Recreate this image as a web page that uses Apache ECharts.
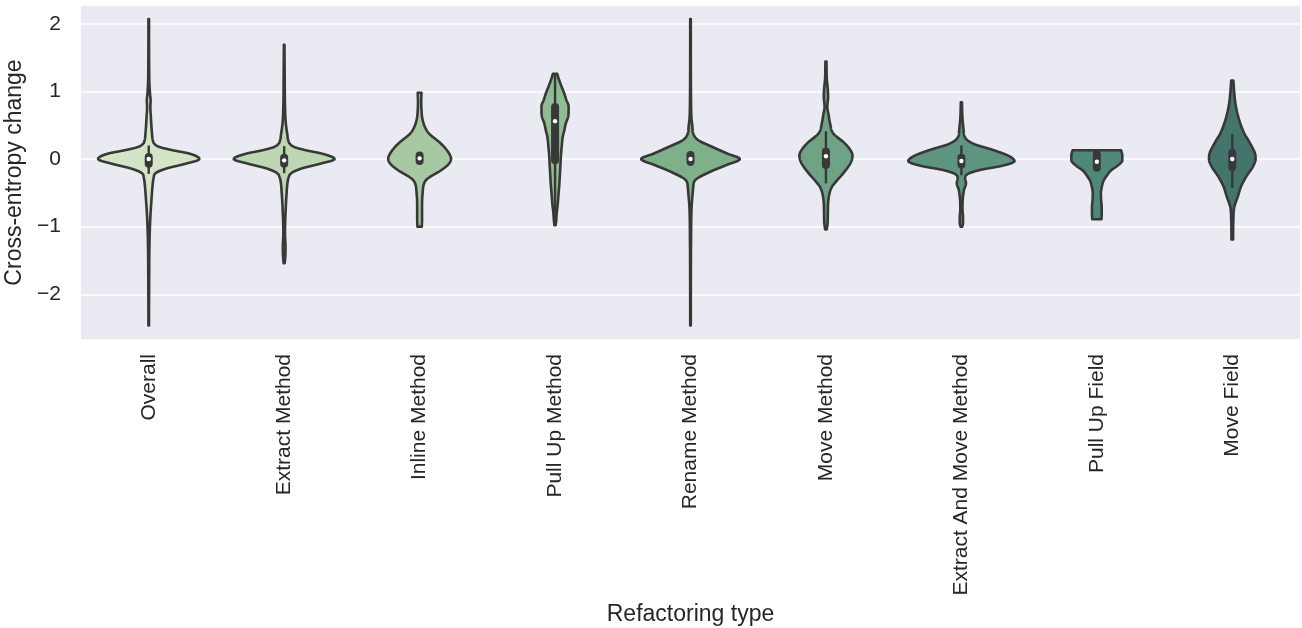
<!DOCTYPE html>
<html>
<head>
<meta charset="utf-8">
<script src="https://cdn.jsdelivr.net/npm/echarts@6/dist/echarts.min.js"></script>
<style>
  html, body { margin: 0; padding: 0; background: #ffffff; }
  #chart { width: 1302px; height: 628px; }
</style>
</head>
<body>
<div id="chart"></div>
<script>
// ---- data ----
const categories = ['Overall', 'Extract Method', 'Inline Method', 'Pull Up Method', 'Rename Method',
  'Move Method', 'Extract And Move Method', 'Pull Up Field', 'Move Field'];

// density profiles: [value, relative half-width (1 = widest violin)]
const densOverall = [[2.07,0.005],[1.2,0.01],[0.95,0.025],[0.87,0.035],[0.77,0.03],[0.62,0.04],[0.38,0.06],[0.28,0.075],[0.23,0.1],[0.18,0.19],[0.13,0.44],[0.08,0.75],[0,0.935],[-0.07,0.68],[-0.14,0.33],[-0.21,0.125],[-0.28,0.09],[-0.36,0.075],[-0.61,0.05],[-0.86,0.03],[-1.2,0.015],[-1.8,0.008],[-2.46,0.004]];
const densExtract = [[1.69,0.005],[1.2,0.01],[0.8,0.015],[0.53,0.03],[0.38,0.055],[0.28,0.075],[0.23,0.1],[0.18,0.18],[0.13,0.4],[0.08,0.7],[0,0.93],[-0.07,0.66],[-0.14,0.32],[-0.21,0.13],[-0.28,0.08],[-0.36,0.06],[-0.51,0.045],[-0.71,0.03],[-1.1,0.015],[-1.3,0.025],[-1.45,0.02],[-1.54,0.01]];
const densInline = [[0.98,0.035],[0.85,0.03],[0.72,0.035],[0.6,0.05],[0.47,0.1],[0.38,0.17],[0.23,0.39],[0.1,0.53],[0,0.58],[-0.08,0.53],[-0.17,0.39],[-0.32,0.11],[-0.51,0.055],[-0.71,0.045],[-0.9,0.045],[-1.0,0.04]];
const densPullUpMethod = [[1.26,0.04],[1.18,0.07],[1.07,0.12],[0.97,0.17],[0.87,0.21],[0.78,0.25],[0.70,0.25],[0.62,0.24],[0.53,0.2],[0.42,0.17],[0.32,0.14],[0.2,0.125],[0.07,0.11],[-0.08,0.1],[-0.22,0.09],[-0.36,0.08],[-0.51,0.065],[-0.66,0.05],[-0.81,0.03],[-0.92,0.02],[-0.98,0.01]];
const densRename = [[2.07,0.004],[1.5,0.006],[0.72,0.012],[0.58,0.02],[0.48,0.035],[0.38,0.05],[0.28,0.14],[0.18,0.4],[0.08,0.68],[0,0.91],[-0.09,0.66],[-0.19,0.36],[-0.32,0.08],[-0.42,0.05],[-0.51,0.04],[-0.71,0.02],[-1.2,0.01],[-2.0,0.006],[-2.46,0.004]];
const densMove = [[1.44,0.01],[1.2,0.015],[1.02,0.035],[0.92,0.04],[0.77,0.025],[0.65,0.05],[0.53,0.075],[0.38,0.135],[0.23,0.35],[0.12,0.46],[0.05,0.49],[-0.05,0.46],[-0.22,0.31],[-0.32,0.2],[-0.42,0.105],[-0.61,0.045],[-0.8,0.035],[-0.95,0.03],[-1.04,0.015]];
const densExtractMove = [[0.84,0.01],[0.6,0.02],[0.43,0.04],[0.33,0.06],[0.23,0.21],[0.13,0.6],[0.05,0.86],[-0.03,0.98],[-0.1,0.75],[-0.16,0.35],[-0.22,0.12],[-0.28,0.07],[-0.36,0.085],[-0.45,0.05],[-0.6,0.025],[-0.75,0.02],[-0.85,0.03],[-0.95,0.03],[-1.0,0.015]];
const densPullUpField = [[0.13,0.45],[0.05,0.47],[-0.02,0.47],[-0.1,0.38],[-0.17,0.26],[-0.25,0.18],[-0.32,0.125],[-0.42,0.09],[-0.51,0.075],[-0.62,0.08],[-0.71,0.09],[-0.8,0.09],[-0.89,0.085]];
const densMoveField = [[1.16,0.02],[0.97,0.037],[0.77,0.068],[0.57,0.13],[0.38,0.22],[0.23,0.33],[0.08,0.42],[0,0.43],[-0.12,0.375],[-0.27,0.25],[-0.41,0.16],[-0.56,0.1],[-0.71,0.037],[-0.9,0.02],[-1.19,0.015]];

const densities = [densOverall, densExtract, densInline, densPullUpMethod, densRename,
  densMove, densExtractMove, densPullUpField, densMoveField];

// box stats: [whiskerLow, q1, median, q3, whiskerHigh]
const boxStats = [
  [-0.22, -0.07, 0.0, 0.03, 0.2],
  [-0.21, -0.07, -0.02, 0.02, 0.19],
  [-0.08, -0.03, 0.01, 0.05, 0.1],
  [-0.98, -0.02, 0.56, 0.77, 1.25],
  [-0.1, -0.04, 0.0, 0.06, 0.11],
  [-0.36, -0.09, 0.04, 0.11, 0.41],
  [-0.24, -0.08, -0.03, 0.02, 0.2],
  [-0.15, -0.13, -0.04, 0.07, 0.12],
  [-0.43, -0.12, 0.0, 0.09, 0.37]
];

const yTicks = [-2, -1, 0, 1, 2];
const colors = ['#d3e4c7', '#bdd6b3', '#a6c9a2', '#8fbc92', '#7eb08a', '#6fa385', '#5e9580', '#4f8879', '#44756d'];

// ---- drawing ----
const GRAY = '#383838';
const TEXT = '#262626';
const FONT = '"Liberation Sans", Arial, Helvetica, sans-serif';

function monotone(xs, ys) {
  const n = xs.length, d = [], m = new Array(n);
  for (let k = 0; k < n - 1; k++) d.push((ys[k + 1] - ys[k]) / (xs[k + 1] - xs[k]));
  m[0] = d[0]; m[n - 1] = d[n - 2];
  for (let k = 1; k < n - 1; k++) m[k] = (d[k - 1] * d[k] <= 0) ? 0 : (d[k - 1] + d[k]) / 2;
  for (let k = 0; k < n - 1; k++) {
    if (d[k] === 0) { m[k] = 0; m[k + 1] = 0; continue; }
    const a = m[k] / d[k], b = m[k + 1] / d[k], s = a * a + b * b;
    if (s > 9) { const t = 3 / Math.sqrt(s); m[k] = t * a * d[k]; m[k + 1] = t * b * d[k]; }
  }
  return function (x) {
    let k = 0;
    while (k < n - 2 && x > xs[k + 1]) k++;
    const h = xs[k + 1] - xs[k], t = Math.min(1, Math.max(0, (x - xs[k]) / h));
    const t2 = t * t, t3 = t2 * t;
    return (2 * t3 - 3 * t2 + 1) * ys[k] + (t3 - 2 * t2 + t) * h * m[k] +
      (-2 * t3 + 3 * t2) * ys[k + 1] + (t3 - t2) * h * m[k + 1];
  };
}

function renderViolin(params, api) {
  const i = api.value(0);
  const cx = api.coord([i, 0])[0];
  const band = api.size([1, 0])[0];
  const scale = band * 0.4;
  const prof = densities[i];
  const ys = prof.map(p => api.coord([i, p[0]])[1]);
  const ws = prof.map(p => Math.max(0, p[1]) * scale);
  const f = monotone(ys, ws);
  const right = [];
  const y0 = ys[0], y1 = ys[ys.length - 1];
  for (let y = y0; y < y1; y += 0.5) right.push([cx + Math.max(0.3, f(y)), y]);
  right.push([cx + Math.max(0.3, ws[ws.length - 1]), y1]);
  const left = right.slice().reverse().map(p => [2 * cx - p[0], p[1]]);
  const pts = right.concat(left);
  const b = boxStats[i];
  const yc = v => api.coord([i, v])[1];
  return {
    type: 'group',
    children: [
      { type: 'polygon', shape: { points: pts },
        style: { fill: colors[i], stroke: GRAY, lineWidth: 2.6, lineJoin: 'round' } },
      { type: 'line', shape: { x1: cx, y1: yc(b[4]), x2: cx, y2: yc(b[0]) },
        style: { stroke: GRAY, lineWidth: 2.4 } },
      { type: 'line', shape: { x1: cx, y1: yc(b[3]), x2: cx, y2: yc(b[1]) },
        style: { stroke: GRAY, lineWidth: 8, lineCap: 'round' } },
      { type: 'circle', shape: { cx: cx, cy: yc(b[2]), r: 2.2 },
        style: { fill: '#ffffff' } }
    ]
  };
}

const chart = echarts.init(document.getElementById('chart'));
chart.setOption({
  animation: false,
  backgroundColor: '#ffffff',
  grid: { left: 81, right: 2, top: 5, bottom: 288, show: true, backgroundColor: '#eaeaf2', borderWidth: 0,
    containLabel: false, outerBoundsMode: 'none' },
  xAxis: {
    type: 'category',
    data: categories,
    boundaryGap: true,
    axisLine: { show: false },
    axisTick: { show: false },
    splitLine: { show: false },
    axisLabel: { rotate: 90, fontSize: 21, color: TEXT, fontFamily: FONT, margin: 14, interval: 0 },
    name: 'Refactoring type',
    nameLocation: 'middle',
    nameGap: 260,
    nameTextStyle: { fontSize: 23, color: TEXT, fontFamily: FONT }
  },
  yAxis: {
    type: 'value',
    min: -2.676,
    max: 2.277,
    axisLine: { show: false },
    axisTick: { show: false },
    splitLine: { show: true, lineStyle: { color: '#ffffff', width: 1.6 } },
    axisLabel: {
      fontSize: 21, color: TEXT, fontFamily: FONT, margin: 20,
      showMinLabel: false, showMaxLabel: false,
      formatter: v => {
        const r = Math.round(v);
        if (Math.abs(v - r) > 1e-6 || yTicks.indexOf(r) < 0) return '';
        return String(r).replace('-', '\u2212');
      }
    },
    name: 'Cross-entropy change',
    nameLocation: 'middle',
    nameGap: 48,
    nameTextStyle: { fontSize: 23, color: TEXT, fontFamily: FONT }
  },
  series: [{
    type: 'custom',
    renderItem: renderViolin,
    data: categories.map((c, i) => [i]),
    encode: { x: 0 },
    clip: false,
    z: 3
  }]
});
</script>
</body>
</html>
